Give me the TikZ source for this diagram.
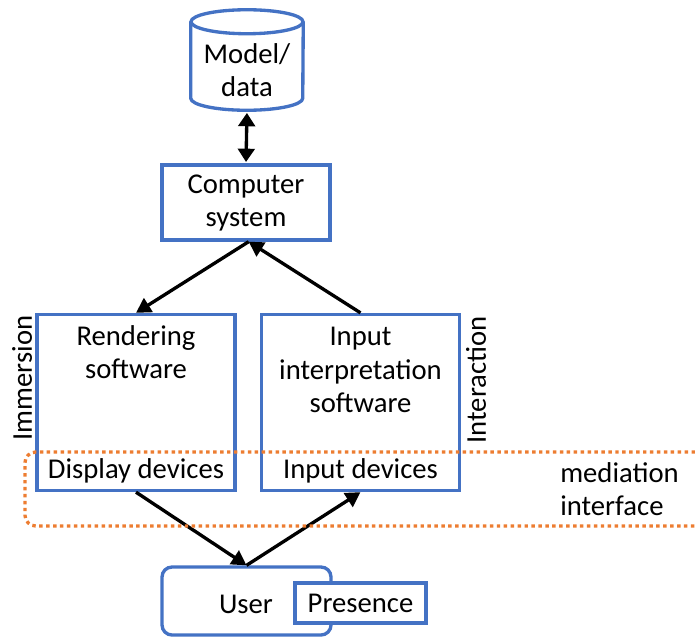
\documentclass[tikz,border=0pt]{standalone}
\usepackage{fontspec}
\setmainfont{Carlito}
\usetikzlibrary{arrows.meta}
\definecolor{boxblue}{HTML}{4472C4}
\definecolor{orng}{HTML}{ED7D31}
\begin{document}
\begin{tikzpicture}[x=0.75pt,y=-0.75pt,
  every node/.style={font=\fontsize{21.5}{25}\selectfont},
  bbox/.style={draw=boxblue,line width=2.5pt,fill=white,rectangle,inner sep=0pt},
  txt/.style={inner sep=0pt,align=center},
  arr/.style={line width=2.5pt,-{Triangle[length=11pt,width=12pt]}},
  darr/.style={line width=2.5pt,{Triangle[length=10pt,width=12.5pt]}-{Triangle[length=10pt,width=12.5pt]}},
  medline/.style={draw=orng,line width=2.5pt,dash pattern=on 2.6pt off 2.6pt,rounded corners=8pt}]
\useasboundingbox (0,0) rectangle (695,637);
% cylinder
\node[inner sep=0pt,minimum width=84pt,minimum height=75pt] (model) at (247,60) {};
\draw[boxblue,line width=2.5pt,fill=white]
  ([yshift=-9pt]model.north west) -- ([yshift=9pt]model.south west)
  arc[start angle=180,end angle=360,x radius=42pt,y radius=9pt]
  -- ([yshift=-9pt]model.north east);
\draw[boxblue,line width=2.5pt,fill=white] ([yshift=-9pt]model.north) ellipse[x radius=42pt,y radius=9pt];
\node[txt] (modeltext) at (247,70) {Model/\\data};
% boxes
\node[bbox,minimum width=126pt,minimum height=56.25pt] (comp) at (246,202.5) {};
\node[txt] (comptext) at (246,203) {Computer\\system};
\node[bbox,minimum width=148.5pt,minimum height=132pt] (rend) at (136,402.5) {};
\node[txt] (rendtext) at (136,352) {Rendering\\software};
\node[txt] (disp) at (136,471) {Display devices};
\node[bbox,minimum width=148.5pt,minimum height=132pt] (inp) at (360.5,402.5) {};
\node[txt] (inptext) at (360.5,370) {Input\\interpretation\\software};
\node[txt] (inpdev) at (360.5,471) {Input devices};
\node[bbox,rounded corners=7.5pt,minimum width=126.75pt,minimum height=51pt] (user) at (246.5,601) {};
\node[txt] (usertext) at (246,604) {User};
\node[bbox,minimum width=98.25pt,minimum height=30pt] (pres) at (360.5,603) {Presence};
% side labels
\node[txt,rotate=90] (imm) at (22,378) {Immersion};
\node[txt,rotate=90] (inter) at (476,380) {Interaction};
\node[txt,align=left,anchor=west] (med) at (560,489) {mediation\\interface};
% arrows
\draw[darr,shorten <=2pt,shorten >=1pt] (model.south) -- (comp.north);
\draw[arr] ([xshift=2pt]comp.south) -- (rend.north);
\draw[arr] (inp.north) -- ([xshift=2pt]comp.south);
\draw[arr] (rend.south) -- (user.north);
\draw[arr] (user.north) -- (inp.south);
% mediation interface
\draw[medline] (695,452) -- (25,452) -- (25,526) -- (695,526);
\end{tikzpicture}
\end{document}
